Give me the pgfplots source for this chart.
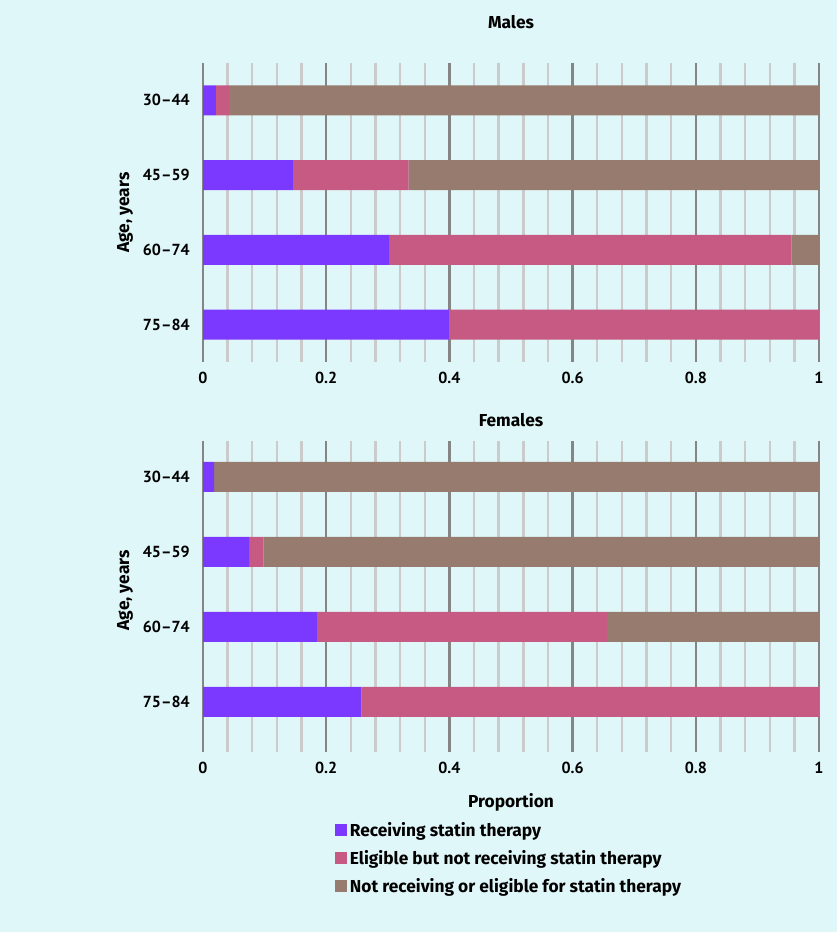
\documentclass[border=0pt]{standalone}
\usepackage{pgfplots}
\pgfplotsset{compat=1.18}
\usepackage{fontspec}
\setmainfont{PT Sans}
\newfontfamily\wordfont{Fira Sans}

\definecolor{bg}{HTML}{E0F7F9}
\definecolor{recv}{HTML}{7B39FF}
\definecolor{elig}{HTML}{C75A82}
\definecolor{notel}{HTML}{977B6E}
\definecolor{majgrid}{HTML}{858585}
\definecolor{mingrid}{HTML}{CBCBCB}

\newcommand{\lbl}{\fontsize{12}{14}\selectfont\bfseries}
\newcommand{\wlbl}{\wordfont\fontsize{13}{15}\selectfont\bfseries}

\pgfplotsset{
  sqlegend/.style={legend image code/.code={\fill[##1] (0pt,-4.5pt) rectangle (9pt,4.5pt);}},
  statin/.style={
    xbar stacked,
    scale only axis,
    width=462pt,
    xmin=0, xmax=1,
    y dir=reverse,
    bar width=22.5pt,
    axis line style={draw=none},
    major tick style={draw=none},
    minor tick style={draw=none},
    xtick={0,0.2,0.4,0.6,0.8,1},
    xticklabels={0,0.2,0.4,0.6,0.8,1},
    minor x tick num=4,
    xmajorgrids, xminorgrids,
    major grid style={majgrid, line width=1.8pt},
    minor grid style={mingrid, line width=1.8pt},
    ytick={0,1,2,3},
    yticklabels={30--44,45--59,60--74,75--84},
    ticklabel style={font=\lbl},
    yticklabel style={anchor=east, inner sep=0pt, xshift=-9.75pt},
    xticklabel style={anchor=north, inner sep=0pt, yshift=-7.5pt},
    ylabel={Age, years},
    ylabel style={font=\wlbl, anchor=center},
  }
}

\begin{document}
\begin{tikzpicture}[font=\wlbl]
\fill[bg] (0pt,0pt) rectangle (627.75pt,699pt);

%-----------------------------
% Males
%-----------------------------
\begin{axis}[
    statin,
    at={(152.25pt,427.5pt)},
    anchor=south west,
    height=224.25pt,
    ymin=-0.5, ymax=3.5,
    ylabel style={at={(axis description cs:-0.1266,0.5)}},
]
\addplot[fill=recv, draw=none] coordinates {(0.021,0) (0.146,1) (0.302,2) (0.399,3)};
\addplot[fill=elig, draw=none] coordinates {(0.021,0) (0.188,1) (0.653,2) (0.601,3)};
\addplot[fill=notel, draw=none] coordinates {(0.958,0) (0.666,1) (0.045,2) (0,3)};
\end{axis}
\node at (383.25pt,682.5pt) {Males};

%-----------------------------
% Females
%-----------------------------
\begin{axis}[
    statin,
    at={(152.25pt,135pt)},
    anchor=south west,
    height=233.25pt,
    ymin=-0.48, ymax=3.667,
    ylabel style={at={(axis description cs:-0.1266,0.52)}},
    xlabel={Proportion},
    xlabel style={font=\wlbl, at={(axis description cs:0.5,0)}, anchor=center, yshift=-37.5pt},
    legend style={at={(axis description cs:0,0)}, anchor=north west,
        xshift=99pt, yshift=-50.5pt, draw=none, fill=none, inner sep=0pt,
        font=\wlbl, row sep=5pt, cells={anchor=west}},
]
\addplot[fill=recv, draw=none, sqlegend] coordinates {(0.018,0) (0.075,1) (0.185,2) (0.257,3)};
\addlegendentry{Receiving statin therapy}
\addplot[fill=elig, draw=none, sqlegend] coordinates {(0,0) (0.023,1) (0.471,2) (0.743,3)};
\addlegendentry{Eligible but not receiving statin therapy}
\addplot[fill=notel, draw=none, sqlegend] coordinates {(0.982,0) (0.902,1) (0.344,2) (0,3)};
\addlegendentry{Not receiving or eligible for statin therapy}
\end{axis}
\node at (383.25pt,384pt) {Females};

\pgfresetboundingbox
\path (0pt,0pt) rectangle (627.75pt,699pt);
\end{tikzpicture}
\end{document}
